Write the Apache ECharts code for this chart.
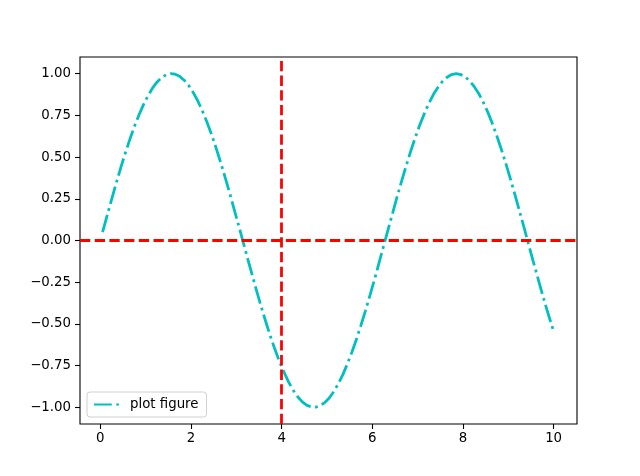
<!DOCTYPE html>
<html><head><meta charset="utf-8">
<script src="https://cdn.jsdelivr.net/npm/echarts@6/dist/echarts.min.js"></script>
<style>html,body{margin:0;padding:0;background:#fff}#c{width:640px;height:476px}</style>
</head><body><div id="c"></div>
<script>
const xValues = [0.05,0.15,0.25,0.35,0.45,0.55,0.65,0.75,0.85,0.95,1.05,1.15,1.25,1.35,1.45,1.55,1.65,1.75,1.85,1.95,2.05,2.15,2.25,2.35,2.45,2.55,2.65,2.75,2.85,2.95,3.05,3.15,3.25,3.35,3.45,3.55,3.65,3.75,3.85,3.95,4.05,4.15,4.25,4.35,4.45,4.55,4.65,4.75,4.85,4.95,5.05,5.15,5.25,5.35,5.45,5.55,5.65,5.75,5.85,5.95,6.05,6.15,6.25,6.35,6.45,6.55,6.65,6.75,6.85,6.95,7.05,7.15,7.25,7.35,7.45,7.55,7.65,7.75,7.85,7.95,8.05,8.15,8.25,8.35,8.45,8.55,8.65,8.75,8.85,8.95,9.05,9.15,9.25,9.35,9.45,9.55,9.65,9.75,9.85,9.95,10.0];
const yValues = [0.050,0.149,0.247,0.343,0.435,0.523,0.605,0.682,0.751,0.813,0.867,0.913,0.949,0.976,0.993,1.000,0.997,0.984,0.961,0.929,0.887,0.837,0.778,0.712,0.638,0.558,0.472,0.382,0.288,0.190,0.092,-0.008,-0.108,-0.206,-0.304,-0.397,-0.487,-0.572,-0.651,-0.724,-0.788,-0.846,-0.895,-0.935,-0.966,-0.987,-0.998,-0.999,-0.990,-0.972,-0.944,-0.906,-0.859,-0.804,-0.740,-0.670,-0.592,-0.508,-0.420,-0.327,-0.232,-0.133,-0.033,0.067,0.166,0.264,0.359,0.450,0.537,0.619,0.694,0.762,0.823,0.876,0.919,0.954,0.979,0.995,1.000,0.995,0.981,0.956,0.922,0.880,0.828,0.768,0.700,0.625,0.544,0.458,0.366,0.272,0.174,0.075,-0.025,-0.125,-0.223,-0.320,-0.413,-0.501,-0.544];
const xTicks = [0,2,4,6,8,10];
const yTicks = [-1,-0.75,-0.5,-0.25,0,0.25,0.5,0.75,1];
const hLineY = 0;
const vLineX = 4;
const seriesName = 'plot figure';

const chart = echarts.init(document.getElementById('c'), null, {renderer:'canvas'});
const font = 'DejaVu Sans';
chart.setOption({
  animation:false,
  backgroundColor:'#fff',
  grid:{left:80,right:63,top:57,bottom:52,show:true,borderColor:'#000',borderWidth:1.1,backgroundColor:'transparent'},
  xAxis:{type:'value',min:-0.448,max:10.516,
    axisLine:{show:false,onZero:false},splitLine:{show:false},
    axisTick:{show:true,inside:false,length:5,customValues:xTicks,lineStyle:{color:'#000',width:1.1}},
    axisLabel:{customValues:xTicks,margin:8,color:'#000',fontFamily:font,fontSize:13.33,formatter:v=>String(v)}},
  yAxis:{type:'value',min:-1.1,max:1.1,
    axisLine:{show:false,onZero:false},splitLine:{show:false},
    axisTick:{show:true,inside:false,length:5,customValues:yTicks,lineStyle:{color:'#000',width:1.1}},
    axisLabel:{customValues:yTicks,margin:9,color:'#000',fontFamily:font,fontSize:13.33,
      formatter:v=>(v<0?'\u2212':'')+Math.abs(v).toFixed(2)}},
  legend:{left:87,top:392,orient:'vertical',itemWidth:26,itemHeight:10,itemGap:0,
    padding:[6,8,6,6],backgroundColor:'rgba(255,255,255,0.8)',borderColor:'#d0d0d0',borderWidth:1,borderRadius:3,
    itemStyle:{opacity:0},
    textStyle:{fontFamily:font,fontSize:13.33,color:'#000',padding:[0,0,0,5]},
    data:[seriesName]},
  series:[{name:seriesName,type:'line',showSymbol:false,symbol:'none',
    data:xValues.map((x,i)=>[x,yValues[i]]),
    lineStyle:{color:'#00bfbf',width:2.78,type:[17.8,4.4,2.8,4.4],cap:'butt'},
    itemStyle:{color:'#00bfbf'},
    markLine:{silent:true,symbol:'none',label:{show:false},animation:false,
      lineStyle:{color:'#ff0000',width:2.78,type:[10.3,4.4]},
      data:[{yAxis:hLineY},{xAxis:vLineX}]},
    z:2}]
});
</script></body></html>
